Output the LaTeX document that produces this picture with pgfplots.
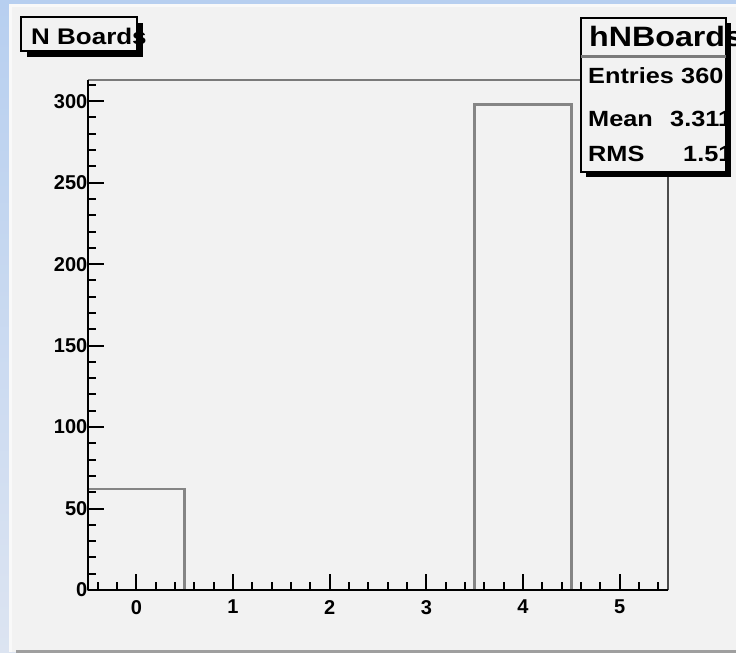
\documentclass[border=0pt]{standalone}
\usepackage{pgfplots}
\pgfplotsset{compat=1.18}
\usepackage{fontspec}
\setmainfont{Liberation Sans}
\newfontfamily\boxfont[FakeStretch=1.15]{Liberation Sans}
\definecolor{bluetop}{HTML}{B7CFF0}
\definecolor{bluebot}{HTML}{DCE4F1}
\definecolor{canvas}{HTML}{F2F2F2}
\definecolor{histgray}{HTML}{858585}
\definecolor{framegray}{HTML}{7A7A7A}
\begin{document}
\begin{tikzpicture}[x=1pt,y=1pt]
\useasboundingbox (0,0) rectangle (736,653);
\clip (0,0) rectangle (736,653);
\shade[top color=bluetop, bottom color=bluebot] (0,0) rectangle (736,653);
\fill[canvas] (8.5,0.5) rectangle (736,649);
\fill[white!55!canvas] (8.5,645.5) rectangle (736,649);
\fill[white!55!canvas] (8.5,0.5) rectangle (12,649);
\fill[gray!75] (16,0) rectangle (736,3);
\begin{axis}[
  at={(136.33pt,63pt)}, anchor=origin,
  scale only axis, width=580pt, height=510pt,
  xmin=-0.5, xmax=5.5, ymin=0, ymax=313,
  axis x line*=bottom, axis y line*=left,
  x axis line style={black, line width=2.5pt},
  y axis line style={black, line width=2.5pt},
  axis on top=true,
  xtick={0,1,2,3,4,5},
  minor xtick={-0.4,-0.2,0.2,0.4,0.6,0.8,1.2,1.4,1.6,1.8,2.2,2.4,2.6,2.8,3.2,3.4,3.6,3.8,4.2,4.4,4.6,4.8,5.2,5.4},
  ytick={0,50,100,150,200,250,300},
  minor ytick={10,20,30,40,60,70,80,90,110,120,130,140,160,170,180,190,210,220,230,240,260,270,280,290,310},
  tick align=inside,
  major tick length=16pt, minor tick length=8pt,
  every tick/.style={black, line width=2pt},
  /pgf/number format/assume math mode=true,
  ticklabel style={font=\fontsize{20}{20}\selectfont\bfseries},
  xticklabel style={inner sep=0pt, yshift=-10pt},
  yticklabel style={inner sep=0pt, xshift=-0.5pt},
  clip=false,
]
\addplot[ybar interval, draw=histgray, fill=none, line width=2.5pt]
  coordinates {(-0.5,62) (0.5,0) (1.5,0) (2.5,0) (3.5,298) (4.5,0) (5.5,0)};
\draw[framegray, line width=2.5pt] (rel axis cs:0,1) -- (rel axis cs:1,1);
\draw[black!70, line width=2.5pt] (rel axis cs:1,1) -- (rel axis cs:1,0);
\end{axis}
% title box
\fill[black] (27,596.3) rectangle (142.5,630);
\filldraw[fill=canvas, draw=black, line width=2pt] (21,602.3) rectangle (136.5,636);
\node[anchor=base west, inner sep=0pt, font=\boxfont\bfseries\fontsize{22.6}{22.6}\selectfont] at (31,608) {N Boards};
% stats box
\fill[black] (585.7,476.3) rectangle (730.7,629.7);
\filldraw[fill=canvas, draw=black, line width=2pt] (580.7,481.3) rectangle (725.7,634.7);
\draw[framegray, line width=3pt] (580.7,596.5) -- (725.7,596.5);
\node[anchor=base west, inner sep=0pt, font=\boxfont\bfseries\fontsize{28}{28}\selectfont] at (589,606.3) {hNBoards};
\begin{scope}
\clip (581.7,482.3) rectangle (724.7,595);
\node[anchor=base west, inner sep=0pt, font=\boxfont\bfseries\fontsize{22}{22}\selectfont] at (588,569.7) {Entries};
\node[anchor=base west, inner sep=0pt, font=\boxfont\bfseries\fontsize{22}{22}\selectfont] at (681,569.7) {360};
\node[anchor=base west, inner sep=0pt, font=\boxfont\bfseries\fontsize{22}{22}\selectfont] at (588,526.3) {Mean};
\node[anchor=base west, inner sep=0pt, font=\boxfont\bfseries\fontsize{22}{22}\selectfont] at (670,526.3) {3.311};
\node[anchor=base west, inner sep=0pt, font=\boxfont\bfseries\fontsize{22}{22}\selectfont] at (588,491.3) {RMS};
\node[anchor=base west, inner sep=0pt, font=\boxfont\bfseries\fontsize{22}{22}\selectfont] at (683,491.3) {1.51};
\end{scope}
\end{tikzpicture}
\end{document}
